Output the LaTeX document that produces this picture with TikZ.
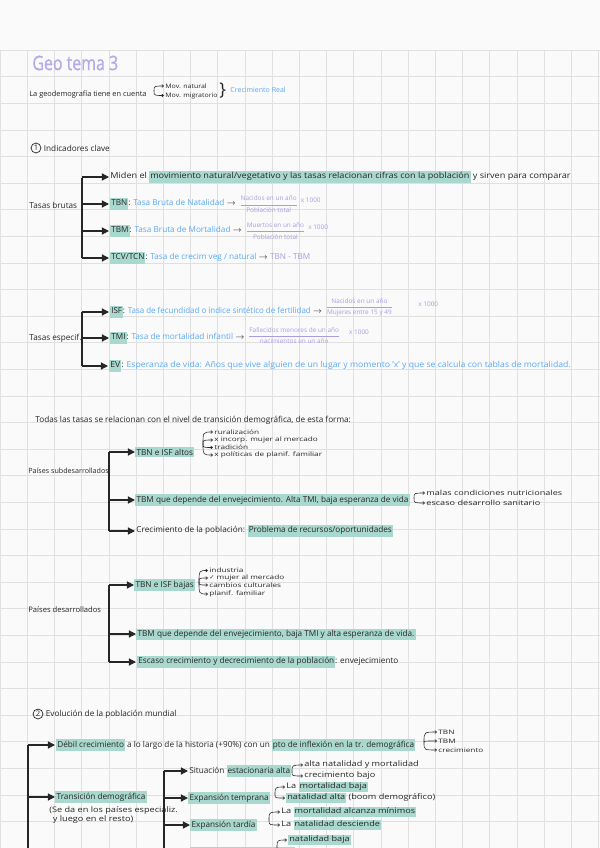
\documentclass[tikz,border=0pt]{standalone}
\usepackage{fontspec}
\usepackage{amsmath}
\usepackage{xcolor}
\setmainfont{Open Sans}
\newfontfamily\dejavu{DejaVu Sans}
\usetikzlibrary{arrows.meta,positioning,calc}
\definecolor{hlteal}{HTML}{A9D8CE}
\definecolor{penblue}{HTML}{5AA9F6}
\definecolor{penpurple}{HTML}{A89DE2}
\definecolor{titlelila}{HTML}{B5AAE8}
\definecolor{ink}{HTML}{262626}
\definecolor{gridgray}{HTML}{E0E0E0}
\definecolor{paper}{HTML}{FAFAFA}
\newcommand{\hilite}[1]{{\setlength{\fboxsep}{0.8pt}\colorbox{hlteal}{\strut #1}}}

\begin{document}
\begin{tikzpicture}[
    x=0.03cm, y=-0.03cm,
    every node/.style={inner sep=1pt},
    txt/.style={anchor=west, text=ink, font=\fontsize{7}{8.5}\selectfont},
    midtxt/.style={txt, font=\fontsize{6.5}{7.5}\selectfont\addfontfeatures{FakeStretch=1.2}},
    small/.style={txt, font=\fontsize{5.2}{6}\selectfont\addfontfeatures{FakeStretch=1.35}},
    hltxt/.style={txt, fill=hlteal, inner sep=1.2pt},
    frac/.style={anchor=west, text=penpurple, font=\fontsize{5.5}{6.5}\selectfont, inner sep=0.5pt},
    numcirc/.style={circle, draw=ink, line width=0.6pt, inner sep=0.4pt,
      minimum size=8.5pt, text=ink, font=\fontsize{6.5}{7}\selectfont},
    arrow/.style={-{Triangle[length=6pt,width=6pt]}, line width=1pt, draw=ink},
    spine/.style={line width=1pt, draw=ink},
    curly/.style={-{Straight Barb[length=1.5pt,width=2.5pt]}, line width=0.5pt, draw=ink},
    gridline/.style={draw=gridgray, line width=0.5pt},
  ]

  % --- Paper and grid ---
  \useasboundingbox (0,0) rectangle (600,848);
  \clip (0,0) rectangle (600,848);
  \fill[paper] (0,0) rectangle (600,848);
  \foreach \i in {0,...,22}
    \draw[gridline] (\i*27.2,50) -- (\i*27.2,848);
  \foreach \j in {0,...,30}
    \draw[gridline] (0,50+\j*26.6) -- (600,50+\j*26.6);

  % --- Title ---
  \node[txt, text=titlelila, font=\fontsize{17}{20}\selectfont\addfontfeatures{FakeStretch=0.8,FakeBold=0.8}] (title) at (31,63) {Geo tema 3};

  % --- Intro ---
  \node[txt, font=\fontsize{6.3}{7.5}\selectfont] (geo) at (28,95) {La geodemografía tiene en cuenta};
  \node[small, font=\fontsize{5.2}{6}\selectfont\addfontfeatures{FakeStretch=1.15}] (movnat) at (164,86) {Mov. natural};
  \node[small, font=\fontsize{5.2}{6}\selectfont\addfontfeatures{FakeStretch=1.15}] (movmig) at (164,95.5) {Mov. migratorio};
  \coordinate (cgeo) at (154,91);
  \draw[curly] (cgeo) .. controls (cgeo |- movnat.west) .. (movnat.west);
  \draw[curly] (cgeo) .. controls (cgeo |- movmig.west) .. (movmig.west);
  \node[txt, font=\fontsize{15}{15}\selectfont] (brace) at (218,90.5) {\}};
  \node[txt, text=penblue, font=\fontsize{6}{7}\selectfont] (real) at (229,90) {Crecimiento Real};

  % --- 1. Indicadores clave ---
  \node[numcirc] (n1) at (36,148) {1};
  \node[txt, right=1pt of n1] (ind) {Indicadores clave};

  % Tasas brutas
  \node[txt] (brutas) at (28,205) {Tasas brutas};
  \coordinate (brA) at (82,178);
  \coordinate (brB) at (82,258);
  \draw[spine] (brA) -- (brB);
  \node[txt, font=\fontsize{7}{8.5}\selectfont\addfontfeatures{FakeStretch=1.11}] (miden) at (109,177)
    {Miden el \hilite{movimiento natural/vegetativo y las tasas relacionan cifras con la población} y sirven para comparar};
  \node[txt] (tbn) at (109,204)
    {\hilite{TBN}: \textcolor{penblue}{Tasa Bruta de Natalidad} $\rightarrow$};
  \node[frac, right=1pt of tbn] (ftbn)
    {$\dfrac{\text{Nacidos en un año}}{\text{Población total}}$};
  \node[frac] (xtbn) at ([xshift=1pt,yshift=3pt]ftbn.east) {x 1000};
  \node[txt] (tbm) at (109,231)
    {\hilite{TBM}: \textcolor{penblue}{Tasa Bruta de Mortalidad} $\rightarrow$};
  \node[frac, right=1pt of tbm] (ftbm)
    {$\dfrac{\text{Muertos en un año}}{\text{Población total}}$};
  \node[frac] (xtbm) at ([xshift=1pt,yshift=3pt]ftbm.east) {x 1000};
  \node[txt] (tcv) at (109,258)
    {\hilite{TCV/TCN}: \textcolor{penblue}{Tasa de crecim veg / natural} $\rightarrow$ \textcolor{penpurple}{TBN - TBM}};
  \foreach \n in {miden,tbn,tbm,tcv}
    \draw[arrow] (brA |- \n.west) -- (\n.west);

  % Tasas especificas
  \node[txt] (especif) at (28,338) {Tasas especif.};
  \coordinate (esA) at (82,312);
  \coordinate (esB) at (82,366);
  \draw[spine] (esA) -- (esB);
  \node[txt, font=\fontsize{7}{8.5}\selectfont\addfontfeatures{FakeStretch=0.97}] (isf) at (109,312)
    {\hilite{ISF}: \textcolor{penblue}{Tasa de fecundidad o índice sintético de fertilidad} $\rightarrow$};
  \node[frac] (fisf) at ([xshift=1pt,yshift=4pt]isf.east)
    {$\dfrac{\text{Nacidos en un año}}{\text{Mujeres entre 15 y 49}}$};
  \node[frac] (xisf) at ([xshift=20pt,yshift=3pt]fisf.east) {x 1000};
  \node[txt] (tmi) at (109,338)
    {\hilite{TMI}: \textcolor{penblue}{Tasa de mortalidad infantil} $\rightarrow$};
  \node[frac] (ftmi) at ([xshift=1pt,yshift=2pt]tmi.east)
    {$\dfrac{\text{Fallecidos menores de un año}}{\text{nacimientos en un año}}$};
  \node[frac] (xtmi) at ([xshift=6pt,yshift=3pt]ftmi.east) {x 1000};
  \node[txt, font=\fontsize{7}{8.5}\selectfont\addfontfeatures{FakeStretch=1.06}] (ev) at (108,366)
    {\hilite{EV}: \textcolor{penblue}{Esperanza de vida: Años que vive alguien de un lugar y momento 'x' y que se calcula con tablas de mortalidad.}};
  \foreach \n in {isf,tmi,ev}
    \draw[arrow] (esA |- \n.west) -- (\n.west);

  \node[txt] (todas) at (34,420)
    {Todas las tasas se relacionan con el nivel de transición demográfica, de esta forma:};

  % Paises subdesarrollados
  \node[txt, font=\fontsize{6.1}{7}\selectfont] (subdes) at (27,471) {Países subdesarrollados};
  \coordinate (sdA) at (109,452);
  \coordinate (sdB) at (109,531);
  \draw[spine] (sdA) -- (sdB);
  \node[hltxt] (altos) at (135,452) {TBN e ISF altos};
  \node[small] (rural) at (213,432) {ruralización};
  \node[small] (incorp) at (213,440) {x incorp. mujer al mercado};
  \node[small] (tradic) at (213,447.5) {tradición};
  \node[small] (planif) at (213,455) {x políticas de planif. familiar};
  \coordinate (caltos) at (203,444);
  \foreach \n in {rural,incorp,tradic,planif}
    \draw[curly] (caltos) .. controls (caltos |- \n.west) .. (\n.west);
  \node[hltxt] (envej) at (135,500)
    {TBM que depende del envejecimiento. Alta TMI, baja esperanza de vida};
  \node[small, font=\fontsize{6}{7}\selectfont\addfontfeatures{FakeStretch=1.3}] (malas) at (425,493) {malas condiciones nutricionales};
  \node[small, font=\fontsize{6}{7}\selectfont\addfontfeatures{FakeStretch=1.3}] (escsan) at (425,503) {escaso desarrollo sanitario};
  \coordinate (cenvej) at (414,498);
  \foreach \n in {malas,escsan}
    \draw[curly] (cenvej) .. controls (cenvej |- \n.west) .. (\n.west);
  \node[txt] (crecpob) at (135,531)
    {Crecimiento de la población: \hilite{Problema de recursos/oportunidades}};
  \foreach \n in {altos,envej,crecpob}
    \draw[arrow] (sdA |- \n.west) -- (\n.west);

  % Paises desarrollados
  \node[txt, font=\fontsize{6.5}{7.5}\selectfont] (desarr) at (27,610) {Países desarrollados};
  \coordinate (dsA) at (109,585);
  \coordinate (dsB) at (109,662);
  \draw[spine] (dsA) -- (dsB);
  \node[hltxt] (bajas) at (134,585) {TBN e ISF bajas};
  \node[small] (indus) at (208,570.5) {industria};
  \node[small] (mujer) at (208,578) {{\dejavu ✓} mujer al mercado};
  \node[small] (cambios) at (208,585) {cambios culturales};
  \node[small] (planif2) at (208,594) {planif. familiar};
  \coordinate (cbajas) at (199,582);
  \foreach \n in {indus,mujer,cambios,planif2}
    \draw[curly] (cbajas) .. controls (cbajas |- \n.west) .. (\n.west);
  \node[hltxt] (envej2) at (136,634)
    {TBM que depende del envejecimiento, baja TMI y alta esperanza de vida.};
  \node[txt] (escaso) at (136,662)
    {\hilite{Escaso crecimiento y decrecimiento de la población}: envejecimiento};
  \foreach \n in {bajas,envej2,escaso}
    \draw[arrow] (dsA |- \n.west) -- (\n.west);

  % --- 2. Evolucion de la poblacion mundial ---
  \node[numcirc] (n2) at (38,714) {2};
  \node[txt, right=1pt of n2] (evol) {Evolución de la población mundial};
  \coordinate (evA) at (28,745);
  \coordinate (evB) at (28,850);
  \draw[spine] (evA) -- (evB);
  \node[txt] (debil) at (55,745)
    {\hilite{Débil crecimiento} a lo largo de la historia (+90\%) con un \hilite{pto de inflexión en la tr. demográfica}};
  \node[small] (dtbn) at (437,732) {TBN};
  \node[small] (dtbm) at (437,741) {TBM};
  \node[small] (dcrec) at (437,750) {crecimiento};
  \coordinate (cdebil) at (424,742);
  \foreach \n in {dtbn,dtbm,dcrec}
    \draw[curly] (cdebil) .. controls (cdebil |- \n.west) .. (\n.west);
  \node[hltxt] (trans) at (55,797) {Transición demográfica};
  \node[midtxt, anchor=north west, align=left] (transnota) at (48,805)
    {(Se da en los países especializ.\\\hspace*{3pt}y luego en el resto)};
  \foreach \n in {debil,trans}
    \draw[arrow] (evA |- \n.west) -- (\n.west);

  % Fases de la transicion
  \coordinate (tdA) at (164,771);
  \coordinate (tdB) at (164,850);
  \draw[spine] (tdA) -- (tdB);
  \node[txt] (sitalta) at (188,771) {Situación \hilite{estacionaria alta}};
  \node[midtxt] (altanat) at (303,765) {alta natalidad y mortalidad};
  \node[midtxt] (crecbajo) at (303,776) {crecimiento bajo};
  \coordinate (csit) at (292,772);
  \foreach \n in {altanat,crecbajo}
    \draw[curly] (csit) .. controls (csit |- \n.west) .. (\n.west);
  \node[hltxt] (temp) at (188,798) {Expansión temprana};
  \node[midtxt] (mortbaja) at (285,787) {La \hilite{mortalidad baja}};
  \node[midtxt] (natalta) at (285,798) {\hilite{natalidad alta} (boom demográfico)};
  \coordinate (ctemp) at (275,795);
  \foreach \n in {mortbaja,natalta}
    \draw[curly] (ctemp) .. controls (ctemp |- \n.west) .. (\n.west);
  \node[hltxt] (tard) at (190,825) {Expansión tardía};
  \node[midtxt] (mortmin) at (280,812) {La \hilite{mortalidad alcanza mínimos}};
  \node[midtxt] (natdesc) at (280,825) {La \hilite{natalidad desciende}};
  \coordinate (ctard) at (269,820);
  \foreach \n in {mortmin,natdesc}
    \draw[curly] (ctard) .. controls (ctard |- \n.west) .. (\n.west);
  \node[hltxt] (sitbaja) at (190,853) {Situación estacionaria baja};
  \node[midtxt] (natbaja) at (287,840) {\hilite{natalidad baja}};
  \coordinate (csitb) at (277,848);
  \draw[curly] (csitb) .. controls (csitb |- natbaja.west) .. (natbaja.west);
  \foreach \n in {sitalta,temp,tard,sitbaja}
    \draw[arrow] (tdA |- \n.west) -- (\n.west);
\end{tikzpicture}
\end{document}
